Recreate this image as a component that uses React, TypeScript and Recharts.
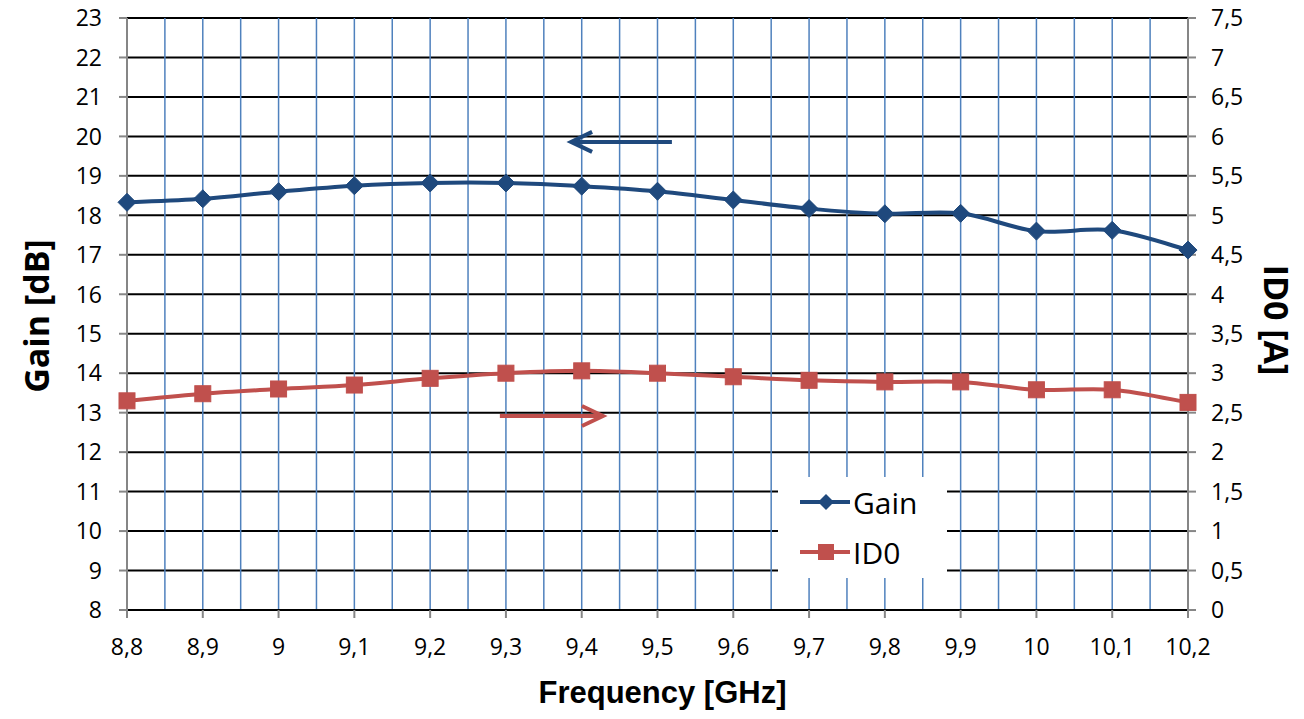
import React from 'react';
import {
  ComposedChart,
  Line,
  XAxis,
  YAxis,
  CartesianGrid,
  ReferenceLine,
  Legend,
} from 'recharts';

// ---- data ----
const freqs = [8.8, 8.9, 9.0, 9.1, 9.2, 9.3, 9.4, 9.5, 9.6, 9.7, 9.8, 9.9, 10.0, 10.1, 10.2];
const gainValues = [18.33, 18.42, 18.6, 18.75, 18.82, 18.82, 18.74, 18.61, 18.39, 18.17, 18.04, 18.05, 17.6, 17.62, 17.12];
const id0Values = [2.65, 2.74, 2.8, 2.85, 2.935, 3.0, 3.03, 3.0, 2.955, 2.91, 2.89, 2.89, 2.79, 2.79, 2.63];

const xTicks = [8.8, 8.9, 9.0, 9.1, 9.2, 9.3, 9.4, 9.5, 9.6, 9.7, 9.8, 9.9, 10.0, 10.1, 10.2];
const xMinorGrid = [8.85, 8.95, 9.05, 9.15, 9.25, 9.35, 9.45, 9.55, 9.65, 9.75, 9.85, 9.95, 10.05, 10.15];
const leftTicks = [8, 9, 10, 11, 12, 13, 14, 15, 16, 17, 18, 19, 20, 21, 22, 23];
const rightTicks = [0, 0.5, 1, 1.5, 2, 2.5, 3, 3.5, 4, 4.5, 5, 5.5, 6, 6.5, 7, 7.5];

// annotation arrows (data coordinates)
const gainArrow = [{ x: 9.519, y: 19.86 }, { x: 9.386, y: 19.86 }];
const id0Arrow = [{ x: 9.292, y: 2.458 }, { x: 9.428, y: 2.458 }];

const data = freqs.map((f, i) => ({ f, gain: gainValues[i], id0: id0Values[i] }));

const BLUE = '#1F497D';
const RED = '#C0504D';
const GRID_BLUE = '#4F81BD';
const AXIS_GRAY = '#868686';
const TICK_FONT = "'Open Sans', sans-serif";
const TICK_SIZE = 23;

const fmt = (v: number) => String(Number(Number(v).toFixed(2))).replace('.', ',');

// Excel-like smoothed line (Catmull-Rom style Bezier)
const excelSmooth: any = (context: any) => {
  let pts: number[][] = [];
  return {
    areaStart() {},
    areaEnd() {},
    lineStart() {
      pts = [];
    },
    point(x: number, y: number) {
      pts.push([+x, +y]);
    },
    lineEnd() {
      if (!pts.length) return;
      context.moveTo(pts[0][0], pts[0][1]);
      for (let i = 0; i < pts.length - 1; i++) {
        const p0 = pts[i - 1] || pts[i];
        const p1 = pts[i];
        const p2 = pts[i + 1];
        const p3 = pts[i + 2] || pts[i + 1];
        const c1x = p1[0] + (p2[0] - p0[0]) / 6;
        const c1y = p1[1] + (p2[1] - p0[1]) / 6;
        const c2x = p2[0] - (p3[0] - p1[0]) / 6;
        const c2y = p2[1] - (p3[1] - p1[1]) / 6;
        context.bezierCurveTo(c1x, c1y, c2x, c2y, p2[0], p2[1]);
      }
    },
  };
};

const Diamond = (props: any) => {
  const { cx, cy, index } = props;
  if (cx == null || cy == null) return <g key={`d${index}`} />;
  const r = 9;
  return (
    <path
      key={`d${index}`}
      d={`M${cx},${cy - r} L${cx + r},${cy} L${cx},${cy + r} L${cx - r},${cy} Z`}
      fill={BLUE}
      stroke={BLUE}
      strokeWidth={1}
    />
  );
};

const Square = (props: any) => {
  const { cx, cy, index } = props;
  if (cx == null || cy == null) return <g key={`s${index}`} />;
  const s = 8;
  return <rect key={`s${index}`} x={cx - s} y={cy - s} width={2 * s} height={2 * s} fill={RED} stroke={RED} strokeWidth={1} />;
};

const XTick = (props: any) => {
  const { x, y, payload } = props;
  return (
    <text x={x} y={y} textAnchor="middle" dy="0.72em" style={{ fontFamily: TICK_FONT, fontSize: TICK_SIZE }} fill="#000">
      {fmt(payload.value)}
    </text>
  );
};

const LeftTick = (props: any) => {
  const { x, y, payload } = props;
  return (
    <text x={x} y={y} textAnchor="end" dy="0.36em" style={{ fontFamily: TICK_FONT, fontSize: TICK_SIZE }} fill="#000">
      {fmt(payload.value)}
    </text>
  );
};

const RightTick = (props: any) => {
  const { x, y, payload } = props;
  return (
    <text x={x} y={y} textAnchor="start" dy="0.36em" style={{ fontFamily: TICK_FONT, fontSize: TICK_SIZE }} fill="#000">
      {fmt(payload.value)}
    </text>
  );
};

const makeArrow = (color: string) => (props: any) => {
  const { x1, y1, x2, y2 } = props;
  const dx = x2 - x1;
  const dy = y2 - y1;
  const len = Math.sqrt(dx * dx + dy * dy) || 1;
  const ux = dx / len;
  const uy = dy / len;
  const hl = 21;
  const hw = 10;
  const bx = x2 - ux * hl;
  const by = y2 - uy * hl;
  const px = -uy;
  const py = ux;
  return (
    <g>
      <line x1={x1} y1={y1} x2={x2 - ux * 2} y2={y2 - uy * 2} stroke={color} strokeWidth={4} />
      <polyline
        points={`${bx + px * hw},${by + py * hw} ${x2},${y2} ${bx - px * hw},${by - py * hw}`}
        fill="none"
        stroke={color}
        strokeWidth={4}
        strokeLinejoin="miter"
      />
    </g>
  );
};

const XTitle = (props: any) => {
  const vb = props.viewBox || {};
  return (
    <text
      x={vb.x + vb.width / 2 + 5}
      y={vb.y + vb.height - 16}
      textAnchor="middle"
      fontFamily="'Liberation Sans', Arial, sans-serif"
      fontWeight="bold"
      fontSize={31}
      fill="#000"
    >
      Frequency [GHz]
    </text>
  );
};

const LeftTitle = (props: any) => {
  const vb = props.viewBox || {};
  const x = vb.x + 36;
  const y = vb.y + 298;
  return (
    <text
      x={x}
      y={y}
      transform={`rotate(-90 ${x} ${y})`}
      textAnchor="middle"
      dominantBaseline="central"
      fontFamily={TICK_FONT}
      fontWeight="bold"
      fontSize={34}
      fill="#000"
    >
      Gain [dB]
    </text>
  );
};

const RightTitle = (props: any) => {
  const vb = props.viewBox || {};
  const x = vb.x + 89;
  const y = vb.y + 302;
  return (
    <text
      x={x}
      y={y}
      transform={`rotate(90 ${x} ${y})`}
      textAnchor="middle"
      dominantBaseline="central"
      fontFamily={TICK_FONT}
      fontWeight="bold"
      fontSize={34}
      fill="#000"
    >
      ID0 [A]
    </text>
  );
};

const LegendBox = () => (
  <div style={{ width: 169, height: 101, background: '#fff' }}>
    <svg width={169} height={101}>
      <line x1={22} y1={25} x2={72} y2={25} stroke={BLUE} strokeWidth={4} />
      <path d="M48,17 L56,25 L48,33 L40,25 Z" fill={BLUE} />
      <text x={75} y={25} dominantBaseline="central" fontFamily={TICK_FONT} fontSize={30} fill="#000">
        Gain
      </text>
      <line x1={22} y1={75} x2={72} y2={75} stroke={RED} strokeWidth={4} />
      <rect x={40} y={67} width={16} height={16} fill={RED} />
      <text x={75} y={75} dominantBaseline="central" fontFamily={TICK_FONT} fontSize={30} fill="#000">
        ID0
      </text>
    </svg>
  </div>
);

export default function App() {
  return (
    <div style={{ position: 'absolute', left: 0, top: 0, width: 1304, height: 719, background: '#fff' }}>
      <ComposedChart width={1304} height={719} data={data} margin={{ top: 18, right: 0, bottom: 0, left: 0 }}>
        <CartesianGrid yAxisId="left" vertical={false} stroke="#000" strokeWidth={2} strokeOpacity={1} />
        <CartesianGrid yAxisId="left" horizontal={false} stroke={GRID_BLUE} strokeWidth={1.5} strokeOpacity={1} />
        {xMinorGrid.map((v) => (
          <ReferenceLine key={`g${v}`} x={v} yAxisId="left" stroke={GRID_BLUE} strokeWidth={1.5} />
        ))}
        <XAxis
          dataKey="f"
          type="number"
          domain={[8.8, 10.2]}
          ticks={xTicks}
          height={109}
          tickSize={8}
          tickMargin={20}
          interval={0}
          axisLine={{ stroke: '#000', strokeWidth: 2 }}
          tickLine={{ stroke: AXIS_GRAY, strokeWidth: 2 }}
          tick={XTick}
          label={{ content: XTitle }}
        />
        <YAxis
          yAxisId="left"
          orientation="left"
          domain={[8, 23]}
          ticks={leftTicks}
          width={127}
          tickSize={8}
          tickMargin={17}
          interval={0}
          axisLine={{ stroke: AXIS_GRAY, strokeWidth: 2 }}
          tickLine={{ stroke: AXIS_GRAY, strokeWidth: 2 }}
          tick={LeftTick}
          label={{ content: LeftTitle }}
        />
        <YAxis
          yAxisId="right"
          orientation="right"
          domain={[0, 7.5]}
          ticks={rightTicks}
          width={116}
          tickSize={8}
          tickMargin={15}
          interval={0}
          axisLine={{ stroke: AXIS_GRAY, strokeWidth: 2 }}
          tickLine={{ stroke: AXIS_GRAY, strokeWidth: 2 }}
          tick={RightTick}
          label={{ content: RightTitle }}
        />
        <ReferenceLine yAxisId="left" segment={gainArrow} stroke={BLUE} shape={makeArrow(BLUE)} />
        <ReferenceLine yAxisId="right" segment={id0Arrow} stroke={RED} shape={makeArrow(RED)} />
        <Line
          yAxisId="left"
          dataKey="gain"
          name="Gain"
          type={excelSmooth}
          stroke={BLUE}
          strokeWidth={4}
          dot={Diamond}
          activeDot={false}
          isAnimationActive={false}
        />
        <Line
          yAxisId="right"
          dataKey="id0"
          name="ID0"
          type={excelSmooth}
          stroke={RED}
          strokeWidth={4}
          dot={Square}
          activeDot={false}
          isAnimationActive={false}
        />
        <Legend
          layout="vertical"
          align="center"
          verticalAlign="middle"
          content={LegendBox}
          wrapperStyle={{ position: 'absolute', left: 778, top: 477, width: 169, height: 101, margin: 0, padding: 0 }}
        />
      </ComposedChart>
    </div>
  );
}
